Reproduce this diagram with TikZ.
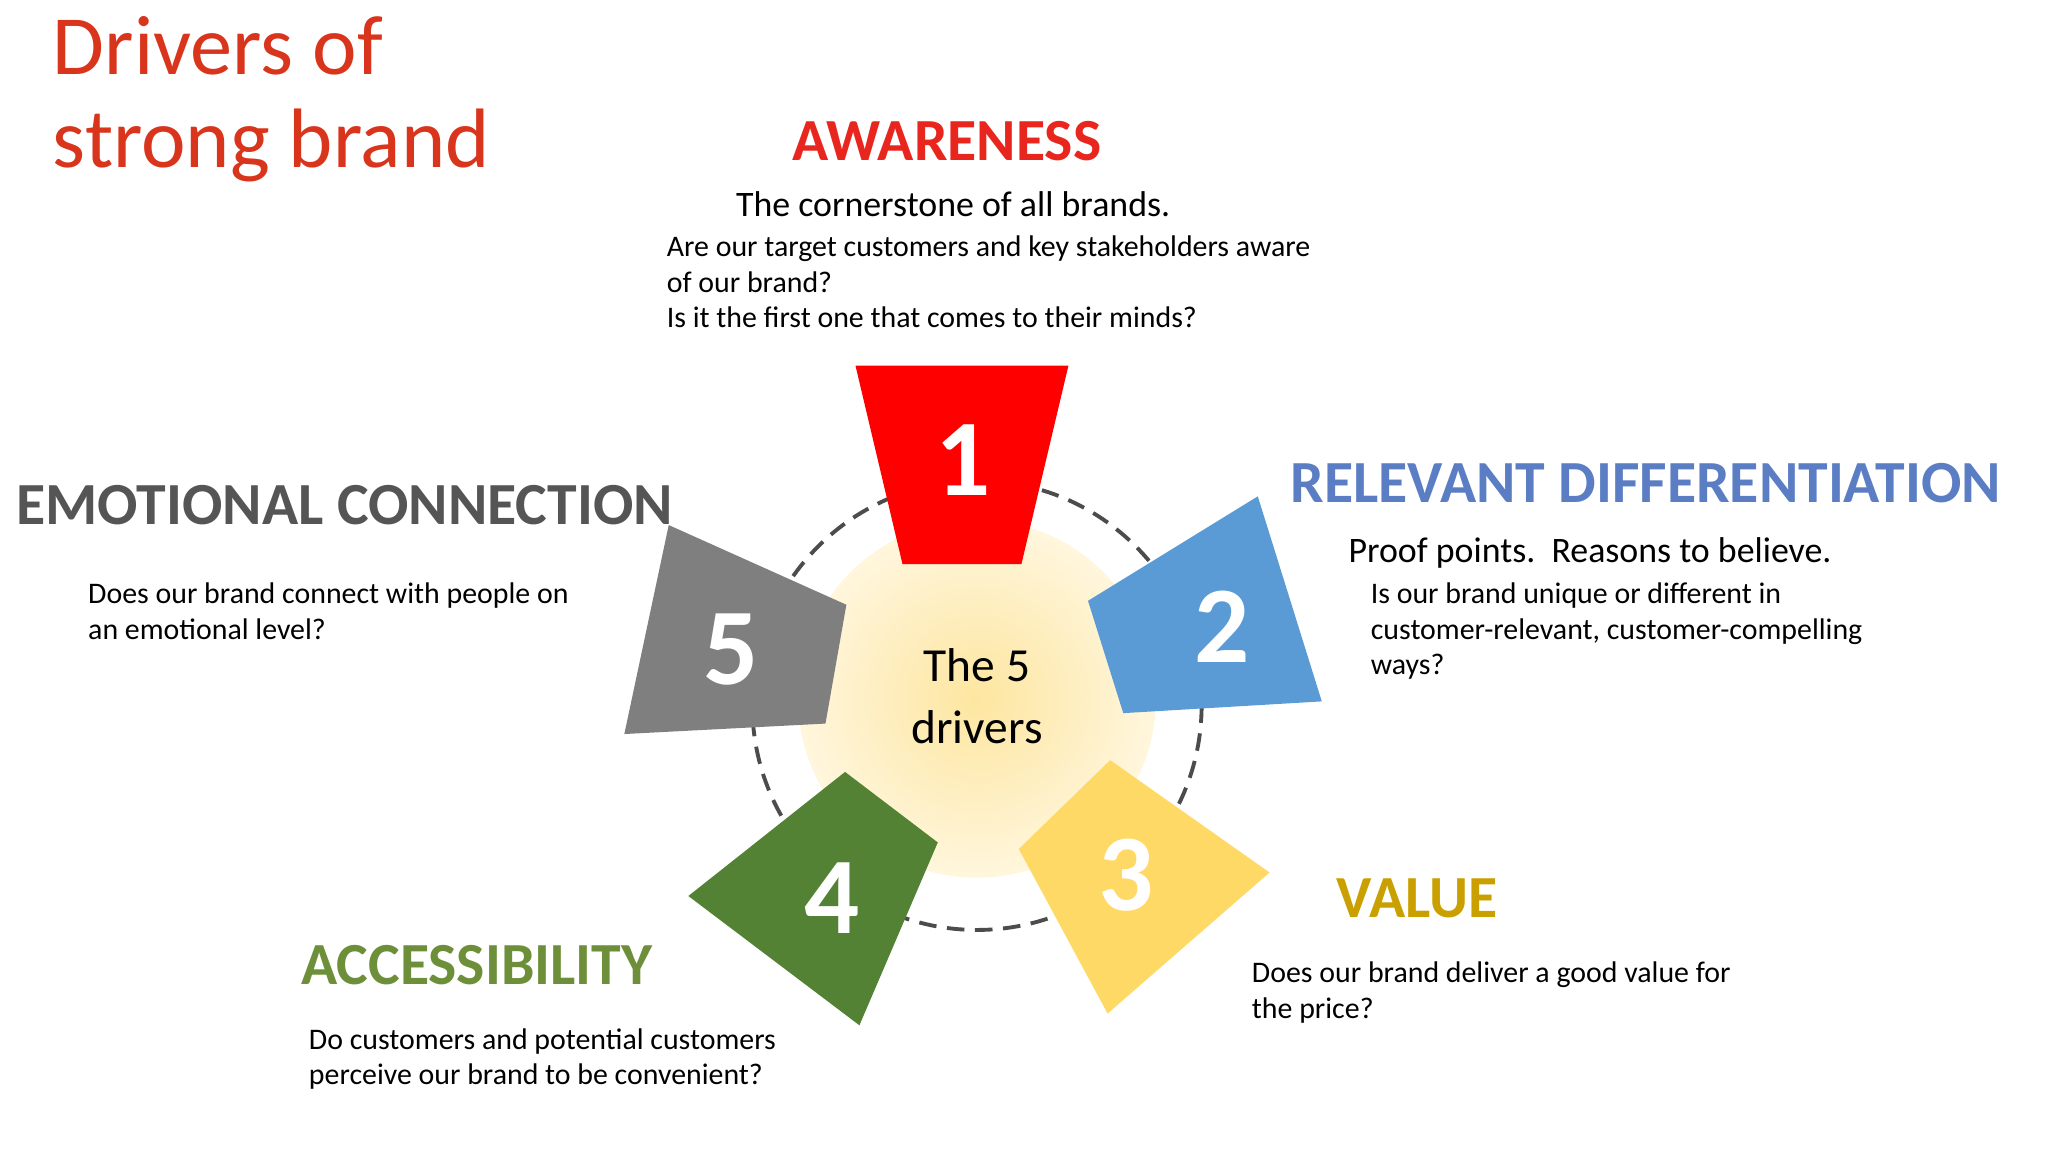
\documentclass[tikz,border=0pt]{standalone}
\usepackage{fontspec}
\setmainfont{Carlito}
\usetikzlibrary{shadings}
\definecolor{tred}{HTML}{D9341C}
\definecolor{aw}{HTML}{E8261E}
\definecolor{rd}{HTML}{5A7DC4}
\definecolor{em}{HTML}{555555}
\definecolor{va}{HTML}{C9A000}
\definecolor{ac}{HTML}{6E8F3A}
\definecolor{c1}{HTML}{FF0000}
\definecolor{c2}{HTML}{5B9BD5}
\definecolor{c3}{HTML}{FFD966}
\definecolor{c4}{HTML}{548235}
\definecolor{c5}{HTML}{7F7F7F}
\definecolor{glowin}{HTML}{FDE6A0}
\definecolor{glowout}{HTML}{FFF6DD}
\tikzset{
 para/.style={anchor=north west,align=left,inner sep=0pt,font=\fontsize{8.5}{10.1}\selectfont},
 head/.style={font=\fontsize{17}{19}\selectfont\bfseries,inner sep=0pt},
 num/.style={text=white,font=\fontsize{31}{33}\selectfont\bfseries,inner sep=0pt}
}
\begin{document}
\begin{tikzpicture}[x=0.01306cm,y=-0.01306cm]
\useasboundingbox (0,0) rectangle (1568,882);
\node[anchor=north west,align=left,inner sep=0pt,text=tred,font=\fontsize{24}{26.5}\selectfont] (title) at (40,12) {Drivers of\\strong brand};
% glow and circle
\shade[inner color=glowin,outer color=glowout] (748,535) circle (137);
\draw[dashed,line width=1.1pt,dash pattern=on 5pt off 3pt,black!70] (748,540) circle (172);
\node[align=center,font=\fontsize{13.5}{17.5}\selectfont,inner sep=0pt] (ctr) at (748,533) {The 5\\drivers};
% petals
\fill[c1] (655,280) -- (818,280) -- (782,432) -- (691,432) -- cycle;
\fill[c2] (833,460) -- (963,380) -- (1012,537) -- (860,546) -- cycle;
\fill[c3] (780,650) -- (850,582) -- (972,668) -- (848,776) -- cycle;
\fill[c4] (527,686) -- (647,591) -- (718,645) -- (658,785) -- cycle;
\fill[c5] (478,562) -- (512,402) -- (648,463) -- (632,554) -- cycle;
\node[num] (n1) at (737,352) {1};
\node[num] (n2) at (936,480) {2};
\node[num] (n3) at (862,670) {3};
\node[num] (n4) at (637,688) {4};
\node[num] (n5) at (560,497) {5};
% texts
\node[head,text=aw] (h1) at (725,108) {AWARENESS};
\node[anchor=west,inner sep=0pt,font=\fontsize{10.2}{12}\selectfont] (s1) at (563,156) {The cornerstone of all brands.};
\node[para] (p1) at (510,180) {Are our target customers and key stakeholders aware\\of our brand?\\Is it the first one that comes to their minds?};
\node[head,text=rd] (h2) at (1260,370) {RELEVANT DIFFERENTIATION};
\node[anchor=west,inner sep=0pt,font=\fontsize{10.2}{12}\selectfont] (s2) at (1032,423) {Proof points.\ \ Reasons to believe.};
\node[para] (p2) at (1049,446) {Is our brand unique or different in\\customer-relevant, customer-compelling\\ways?};
\node[head,text=em,anchor=west] (h5) at (12,387) {EMOTIONAL CONNECTION};
\node[para] (p5) at (67,446) {Does our brand connect with people on\\an emotional level?};
\node[head,text=va] (h3) at (1085,688) {VALUE};
\node[para] (p3) at (958,736) {Does our brand deliver a good value for\\the price?};
\node[head,text=ac] (h4) at (365,739) {ACCESSIBILITY};
\node[para] (p4) at (236,787) {Do customers and potential customers\\perceive our brand to be convenient?};
\end{tikzpicture}
\end{document}
